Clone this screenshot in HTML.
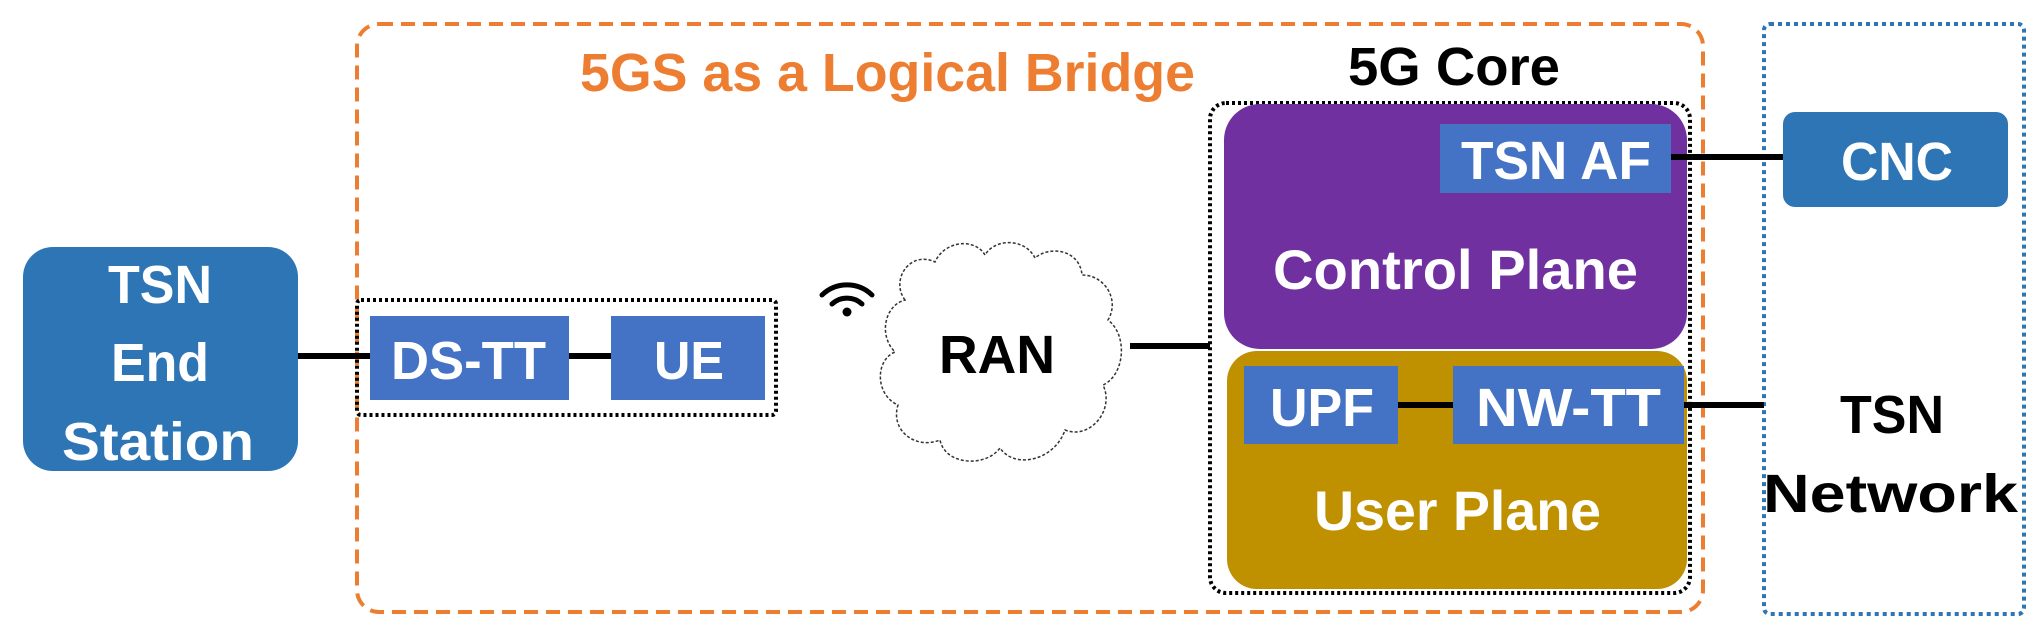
<!DOCTYPE html>
<html><head><meta charset="utf-8"><style>
html,body{margin:0;padding:0;background:#fff;}
svg{display:block;}
text{font-family:"Liberation Sans",sans-serif;font-weight:bold;}
</style></head><body>
<svg width="2044" height="633" viewBox="0 0 2044 633" xmlns="http://www.w3.org/2000/svg">
<rect x="357" y="24" width="1346" height="588" rx="22" fill="none" stroke="#ED7D31" stroke-width="4" stroke-dasharray="14,8"/>
<text x="580" y="91" font-size="54" fill="#ED7D31" textLength="615" lengthAdjust="spacingAndGlyphs">5GS as a Logical Bridge</text>
<rect x="1764" y="24" width="260" height="590" rx="6" fill="none" stroke="#2E75B6" stroke-width="4" stroke-dasharray="4,4"/>
<rect x="23" y="247" width="275" height="224" rx="30" fill="#2E75B6"/>
<g fill="#fff" font-size="54">
<text x="108" y="303" textLength="104" lengthAdjust="spacingAndGlyphs">TSN</text>
<text x="111" y="381" textLength="98" lengthAdjust="spacingAndGlyphs">End</text>
<text x="62" y="460" textLength="192" lengthAdjust="spacingAndGlyphs">Station</text>
</g>
<rect x="357" y="300" width="419" height="115" rx="4" fill="none" stroke="#000" stroke-width="4" stroke-dasharray="3,3"/>
<rect x="370" y="316" width="199" height="84" fill="#4472C4"/>
<rect x="611" y="316" width="154" height="84" fill="#4472C4"/>
<text x="391" y="379" font-size="54" fill="#fff" textLength="155" lengthAdjust="spacingAndGlyphs">DS-TT</text>
<text x="654" y="379" font-size="54" fill="#fff" textLength="70" lengthAdjust="spacingAndGlyphs">UE</text>
<g fill="none" stroke="#000" stroke-width="5" stroke-linecap="round">
<path d="M822 295 A36 36 0 0 1 872 295"/>
<path d="M832 304 A22 22 0 0 1 862 304"/>
</g>
<circle cx="847" cy="312" r="4.5" fill="#000"/>
<path d="M905 300 C890 280 910 250 935 262 C945 240 975 238 985 255 C995 238 1025 238 1035 258 C1050 245 1080 250 1082 275 C1105 275 1120 300 1108 320 C1128 335 1125 375 1103 385 C1115 410 1090 440 1065 430 C1055 460 1015 470 1000 448 C985 468 945 465 940 440 C915 450 890 430 898 405 C875 395 875 360 895 352 C878 335 885 305 905 300 Z" fill="#fff" stroke="#333" stroke-width="1.5" stroke-dasharray="3,2"/>
<text x="939" y="373" font-size="54" fill="#000" textLength="116" lengthAdjust="spacingAndGlyphs">RAN</text>
<text x="1348" y="85" font-size="54" fill="#000" textLength="212" lengthAdjust="spacingAndGlyphs">5G Core</text>
<rect x="1210" y="103" width="480" height="490" rx="16" fill="none" stroke="#000" stroke-width="4" stroke-dasharray="3,3"/>
<rect x="1224" y="104" width="463" height="245" rx="36" fill="#7030A0"/>
<rect x="1227" y="351" width="460" height="238" rx="30" fill="#BF9000"/>
<rect x="1440" y="124" width="231" height="69" fill="#4472C4"/>
<text x="1461" y="179" font-size="54" fill="#fff" textLength="190" lengthAdjust="spacingAndGlyphs">TSN AF</text>
<text x="1273" y="289" font-size="56" fill="#fff" textLength="365" lengthAdjust="spacingAndGlyphs">Control Plane</text>
<rect x="1244" y="366" width="154" height="78" fill="#4472C4"/>
<rect x="1453" y="366" width="231" height="78" fill="#4472C4"/>
<text x="1270" y="426" font-size="54" fill="#fff" textLength="104" lengthAdjust="spacingAndGlyphs">UPF</text>
<text x="1476" y="426" font-size="54" fill="#fff" textLength="185" lengthAdjust="spacingAndGlyphs">NW-TT</text>
<text x="1314" y="530" font-size="56" fill="#fff" textLength="287" lengthAdjust="spacingAndGlyphs">User Plane</text>
<rect x="1783" y="112" width="225" height="95" rx="12" fill="#2E75B6"/>
<text x="1841" y="180" font-size="54" fill="#fff" textLength="112" lengthAdjust="spacingAndGlyphs">CNC</text>
<text x="1840" y="433" font-size="54" fill="#000" textLength="104" lengthAdjust="spacingAndGlyphs">TSN</text>
<text x="1763" y="512" font-size="54" fill="#000" textLength="255" lengthAdjust="spacingAndGlyphs">Network</text>
<g stroke="#000" stroke-width="6">
<line x1="298" y1="356" x2="370" y2="356"/>
<line x1="569" y1="356" x2="611" y2="356"/>
<line x1="1130" y1="346" x2="1210" y2="346"/>
<line x1="1671" y1="157" x2="1783" y2="157"/>
<line x1="1398" y1="405" x2="1453" y2="405"/>
<line x1="1684" y1="405" x2="1764" y2="405"/>
</g>
</svg>
</body></html>
